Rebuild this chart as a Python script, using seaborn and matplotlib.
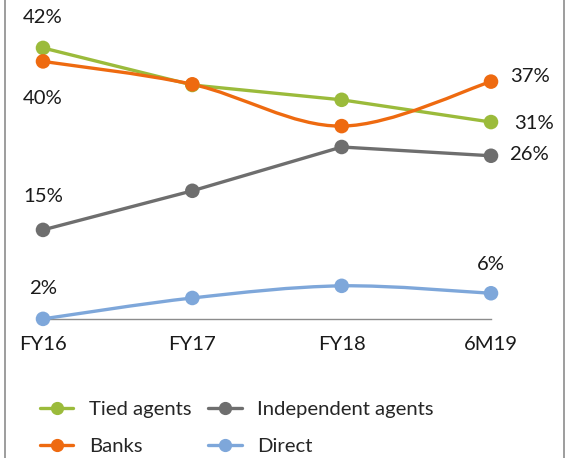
"""Distribution channel mix, FY16 - 6M19."""
import matplotlib
matplotlib.use("Agg")
import matplotlib.pyplot as plt
from matplotlib.lines import Line2D
from matplotlib.path import Path
from matplotlib.patches import PathPatch, Rectangle
import numpy as np
import pandas as pd
import seaborn as sns

PERIODS = ["FY16", "FY17", "FY18", "6M19"]
TIED = [42.0, 36.5, 34.3, 31.0]
BANKS = [40.0, 36.6, 30.4, 37.0]
INDEPENDENT = [15.0, 20.8, 27.3, 26.0]
DIRECT = [1.8, 4.9, 6.7, 5.6]

SERIES = ["Tied agents", "Banks", "Independent agents", "Direct"]
COLORS = {
    "Tied agents": "#9BBB3B",
    "Banks": "#EE6A10",
    "Independent agents": "#6E6E6E",
    "Direct": "#7EA7DA",
}
SMOOTH = {"Tied agents": False, "Banks": True,
          "Independent agents": False, "Direct": True}
# (dx, dy) label offsets in points for first / last point
LABEL_OFFSETS = {
    "Tied agents": ((0, 22), (31, -1)),
    "Banks": ((0, -27), (28, 4)),
    "Independent agents": ((0, 24), (27, 1)),
    "Direct": ((0, 22), (0, 21)),
}

FONT = "Lato"
FS = 14.6


def curve_path(x, y, smooth, k=6.0):
    """Straight polyline, or Catmull-Rom style bezier (Excel smoothed line)."""
    pts = np.column_stack([x, y]).astype(float)
    n = len(pts)
    if not smooth:
        return Path(pts)
    verts = [pts[0]]
    codes = [Path.MOVETO]
    for i in range(n - 1):
        p0 = pts[i - 1] if i > 0 else pts[i]
        p1, p2 = pts[i], pts[i + 1]
        p3 = pts[i + 2] if i + 2 < n else pts[i + 1]
        verts += [p1 + (p2 - p0) / k, p2 - (p3 - p1) / k, p2]
        codes += [Path.CURVE4] * 3
    return Path(verts, codes)


def main():
    sns.set_style("white")
    plt.rcParams["font.family"] = [FONT, "DejaVu Sans"]

    df = pd.DataFrame({"Period": PERIODS, "Tied agents": TIED, "Banks": BANKS,
                       "Independent agents": INDEPENDENT, "Direct": DIRECT})
    long = df.melt(id_vars="Period", var_name="Channel", value_name="Share")
    long["x"] = long["Period"].map({p: i for i, p in enumerate(PERIODS)})

    W, H = 571, 458
    fig = plt.figure(figsize=(W / 100, H / 100), dpi=100)
    ax = fig.add_axes([43 / W, 1 - 319 / H, 448 / W, 289 / H])

    px_per_pct = 6.74
    ax.set_xlim(0, len(PERIODS) - 1)
    ax.set_ylim((331 - 319) / px_per_pct, (331 - 30) / px_per_pct)

    for name in SERIES:
        sub = long[long["Channel"] == name]
        patch = PathPatch(curve_path(sub["x"], sub["Share"], SMOOTH[name]),
                          facecolor="none", edgecolor=COLORS[name], lw=2.4,
                          clip_on=False, capstyle="round", joinstyle="round",
                          zorder=2)
        ax.add_patch(patch)

    sns.scatterplot(data=long, x="x", y="Share", hue="Channel", hue_order=SERIES,
                    palette=COLORS, s=110, edgecolor="none", legend=False,
                    clip_on=False, zorder=3, ax=ax)

    for name in SERIES:
        sub = long[long["Channel"] == name].reset_index(drop=True)
        for idx, off in zip([0, len(sub) - 1], LABEL_OFFSETS[name]):
            ax.annotate(f"{sub.loc[idx, 'Share']:.0f}%",
                        (sub.loc[idx, "x"], sub.loc[idx, "Share"]),
                        xytext=off, textcoords="offset points",
                        ha="center", va="center", fontsize=FS, color="#1a1a1a")

    ax.set_xticks(range(len(PERIODS)))
    ax.set_xticklabels(PERIODS, fontsize=FS, color="#1a1a1a")
    ax.tick_params(axis="x", length=0, pad=12)
    ax.set_yticks([])
    ax.set_xlabel("")
    ax.set_ylabel("")
    for side in ["top", "left", "right"]:
        ax.spines[side].set_visible(False)
    ax.spines["bottom"].set_color("#8c8c8c")
    ax.spines["bottom"].set_linewidth(1.0)
    ax.spines["bottom"].set_zorder(1)

    handles = [Line2D([], [], color=COLORS[n], lw=2.4, marker="o", markersize=8.5)
               for n in SERIES]
    fig.legend(handles, SERIES, loc="center left",
               bbox_to_anchor=(40 / W, 1 - 428 / H), ncol=2, frameon=False,
               fontsize=FS, handlelength=1.65, handletextpad=0.75,
               columnspacing=0.85, labelspacing=1.0, borderpad=0,
               borderaxespad=0)

    fig.patches.append(Rectangle((5 / W, -0.05), 559 / W, 1.2,
                                 transform=fig.transFigure, fill=False,
                                 edgecolor="#8c8c8c", lw=1.2))

    fig.savefig("out.png", dpi=100)
    plt.close(fig)


if __name__ == "__main__":
    main()
